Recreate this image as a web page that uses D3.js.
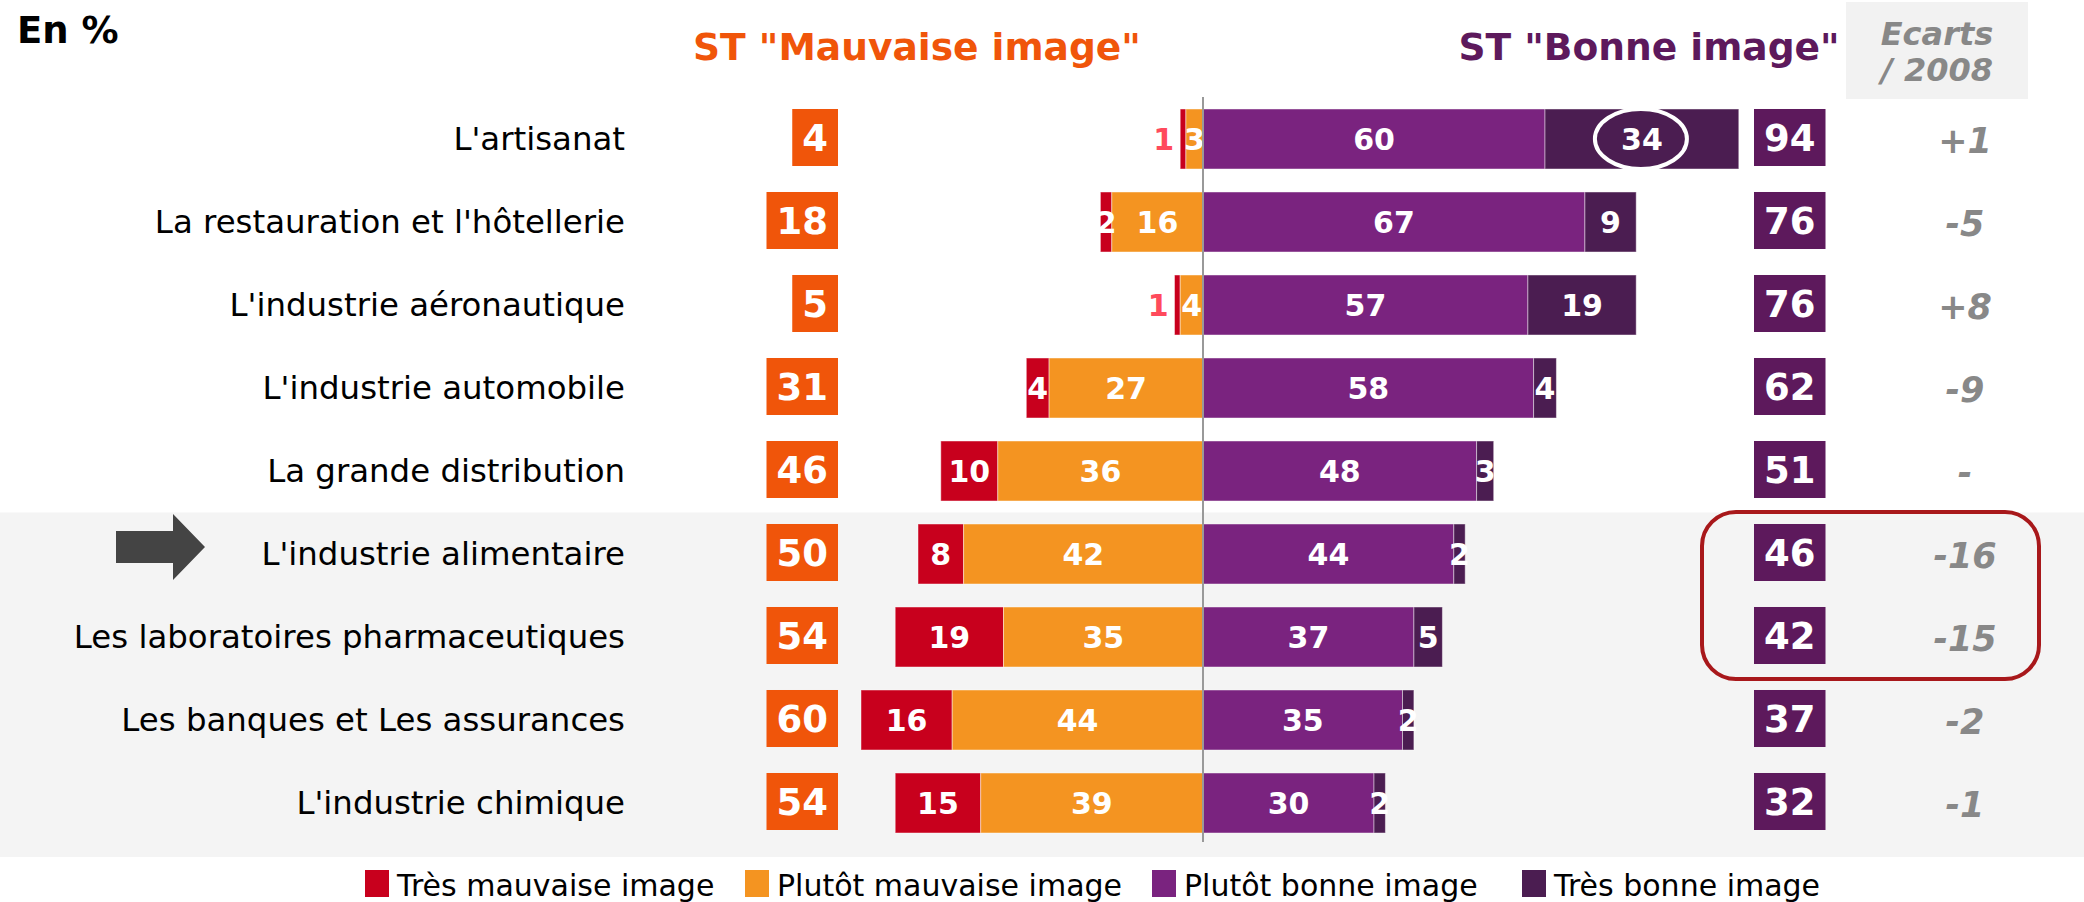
<!DOCTYPE html>
<html>
<head>
<meta charset="utf-8">
<script src="https://cdn.jsdelivr.net/npm/d3@7"></script>
<style>
  html, body { margin: 0; padding: 0; background: #fff; }
  svg { display: block; font-family: "DejaVu Sans", Verdana, sans-serif; }
</style>
</head>
<body>
<svg id="chart" width="2084" height="902"></svg>
<script>
// ---- Data ----
const categories = [
  "L'artisanat",
  "La restauration et l'hôtellerie",
  "L'industrie aéronautique",
  "L'industrie automobile",
  "La grande distribution",
  "L'industrie alimentaire",
  "Les laboratoires pharmaceutiques",
  "Les banques et Les assurances",
  "L'industrie chimique"
];
const tresMauvaise   = [1, 2, 1, 4, 10, 8, 19, 16, 15];
const plutotMauvaise = [3, 16, 4, 27, 36, 42, 35, 44, 39];
const plutotBonne    = [60, 67, 57, 58, 48, 44, 37, 35, 30];
const tresBonne      = [34, 9, 19, 4, 3, 2, 5, 2, 2];
const stMauvaise     = [4, 18, 5, 31, 46, 50, 54, 60, 54];
const stBonne        = [94, 76, 76, 62, 51, 46, 42, 37, 32];
const ecarts         = ["+1", "-5", "+8", "-9", "-", "-16", "-15", "-2", "-1"];
const seriesNames    = ["Très mauvaise image", "Plutôt mauvaise image", "Plutôt bonne image", "Très bonne image"];
const headerMauvaise = 'ST "Mauvaise image"';
const headerBonne    = 'ST "Bonne image"';
const headerEcarts   = ["Ecarts", "/ 2008"];
const unitLabel      = "En %";

// ---- Styles ----
const colors = ["#c8001d", "#f49421", "#7a237f", "#4b1d51"];
const boxBad = "#f0550a";
const boxGood = "#5d195c";
const greyText = "#888888";

const svg = d3.select("#chart");

const y = d3.scaleBand()
  .domain(categories)
  .range([97.5, 844.5])
  .paddingInner(0.277)
  .paddingOuter(0.1385);

const x = d3.scaleLinear().domain([-100, 100]).range([1203 - 570, 1203 + 570]);

// grey panel behind last four rows
const panelTop = y(categories[5]) - 11.5;
svg.append("rect")
  .attr("x", 0).attr("y", panelTop)
  .attr("width", 2084).attr("height", 857 - panelTop)
  .attr("fill", "#f4f4f4");

// Ecarts header box
svg.append("rect")
  .attr("x", 1846).attr("y", 2).attr("width", 182).attr("height", 97)
  .attr("fill", "#f2f2f2");
svg.append("text")
  .attr("x", 1937).attr("y", 45)
  .attr("text-anchor", "middle")
  .attr("font-size", 32).attr("font-weight", "bold").attr("font-style", "italic")
  .attr("fill", greyText)
  .text(headerEcarts[0]);
svg.append("text")
  .attr("x", 1937).attr("y", 81)
  .attr("text-anchor", "middle")
  .attr("font-size", 32).attr("font-weight", "bold").attr("font-style", "italic")
  .attr("fill", greyText)
  .text(headerEcarts[1]);

// Titles
svg.append("text")
  .attr("x", 17).attr("y", 43)
  .attr("font-size", 37).attr("font-weight", "bold").attr("fill", "#000")
  .text(unitLabel);
svg.append("text")
  .attr("x", 917).attr("y", 60)
  .attr("text-anchor", "middle")
  .attr("font-size", 37.6).attr("font-weight", "bold").attr("fill", boxBad)
  .text(headerMauvaise);
svg.append("text")
  .attr("x", 1649).attr("y", 60)
  .attr("text-anchor", "middle")
  .attr("font-size", 37.6).attr("font-weight", "bold").attr("fill", boxGood)
  .text(headerBonne);

// Category labels
svg.append("g").selectAll("text")
  .data(categories)
  .join("text")
  .attr("x", 625)
  .attr("y", d => y(d) + y.bandwidth() / 2 + 11)
  .attr("text-anchor", "end")
  .attr("font-size", 32.4)
  .attr("fill", "#000")
  .text(d => d);

// Arrow pointing at "L'industrie alimentaire"
{
  const cy = y(categories[5]) + y.bandwidth() / 2 - 7;
  const pts = [
    [116, cy - 16], [173, cy - 16], [173, cy - 33], [205, cy],
    [173, cy + 33], [173, cy + 16], [116, cy + 16]
  ];
  svg.append("path")
    .attr("d", d3.line()(pts) + "Z")
    .attr("fill", "#444444");
}

// Build segments
const rows = categories.map((c, i) => {
  const tm = tresMauvaise[i], pm = plutotMauvaise[i], pb = plutotBonne[i], tb = tresBonne[i];
  return {
    cat: c, i,
    segs: [
      { k: 0, v: tm, x0: -(tm + pm), x1: -pm },
      { k: 1, v: pm, x0: -pm, x1: 0 },
      { k: 2, v: pb, x0: 0, x1: pb },
      { k: 3, v: tb, x0: pb, x1: pb + tb }
    ]
  };
});

const rowG = svg.append("g").selectAll("g")
  .data(rows)
  .join("g")
  .attr("transform", d => `translate(0,${y(d.cat)})`);

rowG.selectAll("rect.seg")
  .data(d => d.segs)
  .join("rect")
  .attr("class", "seg")
  .attr("x", s => x(s.x0))
  .attr("y", 0)
  .attr("width", s => x(s.x1) - x(s.x0))
  .attr("height", y.bandwidth())
  .attr("fill", s => colors[s.k])
  .attr("stroke", "rgba(255,255,255,0.45)")
  .attr("stroke-width", 1);

rowG.selectAll("text.seg")
  .data(d => d.segs)
  .join("text")
  .attr("class", "seg")
  .attr("x", s => (s.k === 0 && s.v <= 1) ? x(s.x0) - 6 : (x(s.x0) + x(s.x1)) / 2)
  .attr("y", y.bandwidth() / 2 + 11)
  .attr("text-anchor", s => (s.k === 0 && s.v <= 1) ? "end" : "middle")
  .attr("font-size", 30)
  .attr("font-weight", "bold")
  .attr("fill", s => (s.k === 0 && s.v <= 1) ? "#ff4a5c" : "#fff")
  .text(s => s.v);

// zero line
svg.append("line")
  .attr("x1", x(0)).attr("x2", x(0))
  .attr("y1", 97).attr("y2", 842)
  .attr("stroke", "#999").attr("stroke-width", 2);

// ellipse around highlighted value (L'artisanat, très bonne image)
{
  const s = rows[0].segs[3];
  svg.append("ellipse")
    .attr("cx", (x(s.x0) + x(s.x1)) / 2 - 1)
    .attr("cy", y(categories[0]) + y.bandwidth() / 2)
    .attr("rx", 46).attr("ry", 30)
    .attr("fill", "none").attr("stroke", "#fff").attr("stroke-width", 4);
}

// ST boxes
function addBoxes(values, anchorX, alignRight, fill) {
  const g = svg.append("g");
  values.forEach((v, i) => {
    const t = g.append("text")
      .attr("font-size", 37).attr("font-weight", "bold").attr("fill", "#fff")
      .attr("text-anchor", "middle")
      .text(v);
    const w = t.node().getComputedTextLength() + 20;
    const bx = alignRight ? anchorX - w : anchorX;
    const by = y(categories[i]);
    g.insert("rect", "text")
      .attr("x", bx).attr("y", by)
      .attr("width", w).attr("height", 57)
      .attr("fill", fill);
    t.attr("x", bx + w / 2).attr("y", by + 28.5 + 13.5);
  });
}
addBoxes(stMauvaise, 838, true, boxBad);
addBoxes(stBonne, 1754, false, boxGood);

// Ecarts values
svg.append("g").selectAll("text")
  .data(ecarts)
  .join("text")
  .attr("x", 1965)
  .attr("y", (d, i) => y(categories[i]) + y.bandwidth() / 2 + 14)
  .attr("text-anchor", "middle")
  .attr("font-size", 35).attr("font-weight", "bold").attr("font-style", "italic")
  .attr("fill", greyText)
  .text(d => d);

// Highlight rounded rectangle around rows 6-7 totals
{
  const top = y(categories[5]) - 12;
  const bottom = y(categories[6]) + y.bandwidth() + 12;
  svg.append("rect")
    .attr("x", 1702).attr("y", top)
    .attr("width", 337).attr("height", bottom - top)
    .attr("rx", 34).attr("ry", 34)
    .attr("fill", "none").attr("stroke", "#a8181b").attr("stroke-width", 4);
}

// Legend
const legendX = [365, 745, 1152, 1522];
const lg = svg.append("g").selectAll("g")
  .data(seriesNames)
  .join("g")
  .attr("transform", (d, i) => `translate(${legendX[i]},870)`);
lg.append("rect")
  .attr("width", 24).attr("height", 27)
  .attr("fill", (d, i) => colors[i]);
lg.append("text")
  .attr("x", 32).attr("y", 26)
  .attr("font-size", 30).attr("fill", "#000")
  .text(d => d);
</script>
</body>
</html>
